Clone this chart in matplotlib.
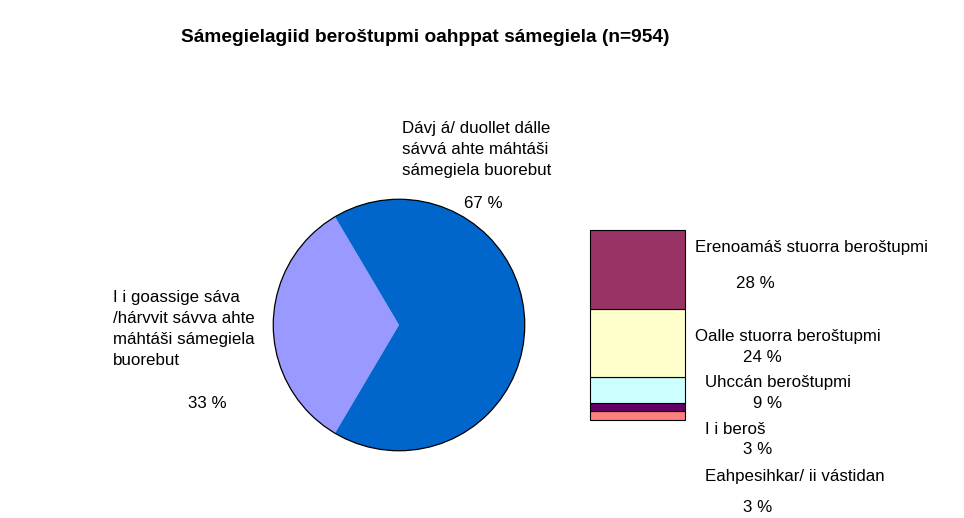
import matplotlib
matplotlib.use("Agg")
import matplotlib.pyplot as plt

plt.rcParams["font.family"] = ["Liberation Sans", "DejaVu Sans"]

title = "Sámegielagiid beroštupmi oahppat sámegiela (n=954)"

# pie: share who wish they could speak Sámi better
pie_labels = ["I i goassige sáva\n/hárvvit sávva ahte\nmáhtáši sámegiela\nbuorebut",
              "Dávj á/ duollet dálle\nsávvá ahte máhtáši\nsámegiela buorebut"]
pie_values = [33, 67]
pie_colors = ["#9999FF", "#0066CC"]

# bar: breakdown of the 67 % slice, bottom to top
bar_labels = ["Eahpesihkar/ ii vástidan", "I i beroš", "Uhccán beroštupmi",
              "Oalle stuorra beroštupmi", "Erenoamáš stuorra beroštupmi"]
bar_values = [3, 3, 9, 24, 28]
bar_colors = ["#FF8080", "#660066", "#CCFFFF", "#FFFFCC", "#993366"]

W, H = 964, 518
fig = plt.figure(figsize=(W / 100, H / 100), dpi=100)
fig.patch.set_facecolor("white")


def px(x, y):
    return x / W, 1 - y / H


# pie
cx, cy, r = 399, 325, 127
ax_pie = fig.add_axes([(cx - r) / W, (H - cy - r) / H, 2 * r / W, 2 * r / H])
start = 180 - pie_values[0] / 100 * 360 / 2
ax_pie.pie(pie_values, colors=pie_colors, startangle=start, counterclock=True,
           wedgeprops=dict(edgecolor="none"))
ax_pie.add_patch(plt.Circle((0, 0), 1, fill=False, edgecolor="black", lw=0.9))
ax_pie.set_xlim(-1.01, 1.01)
ax_pie.set_ylim(-1.01, 1.01)
ax_pie.set_aspect("equal")
ax_pie.axis("off")

# stacked bar
ax_bar = fig.add_axes([590 / W, (H - 420) / H, 95 / W, 190 / H])
bottom = 0
for v, c in zip(bar_values, bar_colors):
    ax_bar.bar(0, v, bottom=bottom, width=1, color=c, edgecolor="black", lw=0.8,
               clip_on=False)
    bottom += v
ax_bar.set_xlim(-0.5, 0.5)
ax_bar.set_ylim(0, sum(bar_values))
ax_bar.axis("off")

fs = 12.2
fig.text(*px(425, 38), title, ha="center", va="center", fontsize=13.8, fontweight="bold")

fig.text(*px(402, 149), pie_labels[1], ha="left", va="center", fontsize=fs, linespacing=1.5)
fig.text(*px(483, 204), f"{pie_values[1]} %", ha="center", va="center", fontsize=fs)
fig.text(*px(113, 329), pie_labels[0], ha="left", va="center", fontsize=fs, linespacing=1.5)
fig.text(*px(207, 404), f"{pie_values[0]} %", ha="center", va="center", fontsize=fs)

# right-hand labels, top to bottom
label_pos = [(695, 248, 755, 283), (695, 337, 762, 357), (705, 383, 768, 403),
             (705, 430, 758, 450), (705, 477, 758, 507)]
for (lx, ly, vx, vy), lab, v in zip(label_pos, bar_labels[::-1], bar_values[::-1]):
    fig.text(*px(lx, ly), lab, ha="left", va="center", fontsize=fs)
    fig.text(*px(vx, vy), f"{v} %", ha="center", va="center", fontsize=fs)

fig.savefig("out.png", dpi=100)
